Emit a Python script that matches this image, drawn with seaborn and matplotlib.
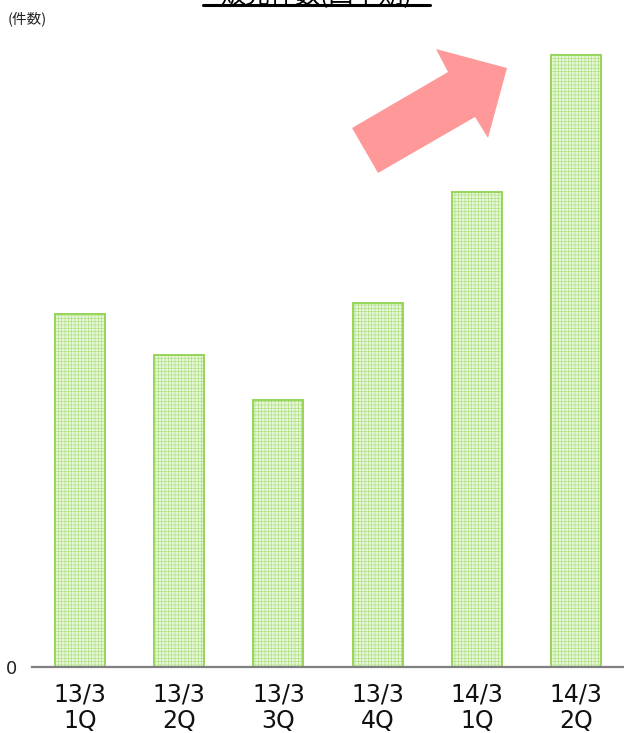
import matplotlib
matplotlib.use("Agg")
import matplotlib.pyplot as plt
import seaborn as sns
import pandas as pd
from matplotlib.patches import Polygon
from matplotlib.lines import Line2D

categories = ["13/3\n1Q", "13/3\n2Q", "13/3\n3Q", "13/3\n4Q", "14/3\n1Q", "14/3\n2Q"]
values = [353, 312, 267, 364, 475, 612]
title = "販売件数(四半期)"
unit_label = "(件数)"

sns.set_theme(style="white")
plt.rcParams['font.family'] = ['Noto Sans CJK JP', 'DejaVu Sans']
plt.rcParams['hatch.color'] = '#d8f0c2'
plt.rcParams['hatch.linewidth'] = 0.3

W, H = 624, 733
fig = plt.figure(figsize=(W / 100, H / 100), dpi=100)
ax = fig.add_axes([32 / W, 1 - 667 / H, (624 - 32) / W, (667 - 40) / H])

df = pd.DataFrame({"cat": categories, "val": values})
sns.barplot(data=df, x="cat", y="val", ax=ax, color="#e5f6d6", width=0.504,
            edgecolor="#97d55a", linewidth=1.4, saturation=1)
for p in ax.patches:
    p.set_hatch("+++++")

ax.set_xlim(-0.484, 5.484)
ax.set_ylim(0, 627)
ax.set_xlabel("")
ax.set_ylabel("")
for s in ["top", "right", "left"]:
    ax.spines[s].set_visible(False)
ax.spines["bottom"].set_color("#808080")
ax.spines["bottom"].set_linewidth(1.6)
ax.set_yticks([0])
ax.set_yticklabels(["0"], fontsize=13, color="#222222", family="DejaVu Sans")
ax.tick_params(axis="y", length=0, pad=11)
ax.tick_params(axis="x", length=0, pad=11)
for lbl in ax.get_xticklabels():
    lbl.set_family("DejaVu Sans")
    lbl.set_fontsize(17)
    lbl.set_color("#111111")
    lbl.set_linespacing(1.13)

# title (partially cut at top, as in the reference)
fig.text(316 / W, 1 - 2 / H, title, ha="center", va="baseline", fontsize=18, color="#000000")
fig.add_artist(Line2D([203 / W, 430 / W], [1 - 5 / H, 1 - 5 / H], color="black", linewidth=2.2,
                      transform=fig.transFigure))
fig.text(8 / W, 1 - 19 / H, unit_label, ha="left", va="center", fontsize=10.5, color="#222222")

# arrow
pts = [(352, 128), (378, 173), (475, 117), (488, 138), (507, 68), (436, 49), (448, 72)]
arrow = Polygon([(x / W, 1 - y / H) for x, y in pts], closed=True, facecolor="#ff9999",
                edgecolor="none", transform=fig.transFigure)
fig.add_artist(arrow)

fig.savefig("out.png", dpi=100)
